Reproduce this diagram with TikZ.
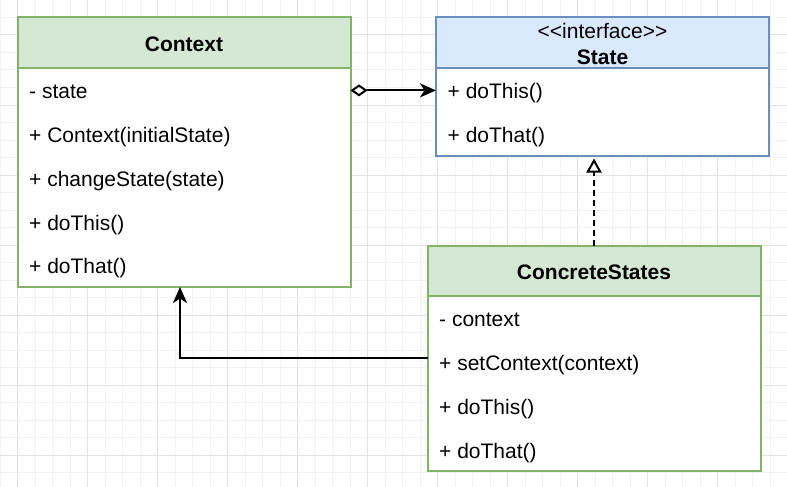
\documentclass[tikz,border=0pt]{standalone}
\usepackage{fontspec}
\setmainfont{Liberation Sans}
\usetikzlibrary{arrows.meta}
\definecolor{gminor}{RGB}{242,242,242}
\definecolor{gmajor}{RGB}{226,226,226}
\definecolor{greenfill}{RGB}{213,232,212}
\definecolor{greenline}{RGB}{130,179,102}
\definecolor{bluefill}{RGB}{218,232,252}
\definecolor{blueline}{RGB}{108,142,191}
\begin{document}
\begin{tikzpicture}[x=1pt,y=-1pt,
  every node/.style={font=\fontsize{21pt}{25pt}\selectfont},
  classbox/.style={draw, line width=2pt, fill=white, inner sep=0pt, outer sep=0pt,
    anchor=north west, minimum width=333pt},
  headbox/.style={classbox, minimum height=50.75pt},
  greenbox/.style={draw=greenline},
  bluebox/.style={draw=blueline},
  rowtxt/.style={anchor=base west, inner sep=0pt},
  headtxt/.style={anchor=base, inner sep=0pt},
  conn/.style={line width=2pt, black},
]
\useasboundingbox (0,0) rectangle (787,487);
% grid
\begin{scope}
\clip (0,0) rectangle (787,487);
\foreach \i in {0,...,45} {\draw[gminor, line width=1pt] (\i*17.5,0) -- (\i*17.5,487);}
\foreach \j in {0,...,28} {\draw[gminor, line width=1pt] (0,\j*17.5) -- (787,\j*17.5);}
\foreach \i in {0,...,11} {\draw[gmajor, line width=1pt] (17.5+\i*70,0) -- (17.5+\i*70,487);}
\foreach \j in {0,...,6} {\draw[gmajor, line width=1pt] (0,35+\j*70) -- (787,35+\j*70);}
\end{scope}

% Context
\node[classbox, greenbox, minimum height=269.5pt] (ctx) at (17.5,17.5) {};
\node[headbox, greenbox, fill=greenfill] (ctxhead) at (17.5,17.5) {};
\node[headtxt, font=\fontsize{21pt}{25pt}\selectfont\bfseries] (ctxname) at (ctxhead.center |- 0,51.7) {Context};
\node[rowtxt] (ctxr1) at (29,98.9) {- state};
\node[rowtxt] (ctxr2) at (29,142.7) {+ Context(initialState)};
\node[rowtxt] (ctxr3) at (29,186.4) {+ changeState(state)};
\node[rowtxt] (ctxr4) at (29,230.2) {+ doThis()};
\node[rowtxt] (ctxr5) at (29,273.9) {+ doThat()};

% State
\node[classbox, bluebox, minimum height=138pt] (state) at (436,17.5) {};
\node[headbox, bluebox, fill=bluefill] (statehead) at (436,17.5) {};
\node[headtxt] (stereo) at (statehead.center |- 0,38.8) {{<}\kern0pt{<}interface{>}\kern0pt{>}};
\node[headtxt, font=\fontsize{21pt}{25pt}\selectfont\bfseries] (statename) at (statehead.center |- 0,64.5) {State};
\node[rowtxt] (str1) at (447.5,98.9) {+ doThis()};
\node[rowtxt] (str2) at (447.5,142.7) {+ doThat()};

% ConcreteStates
\node[classbox, greenbox, minimum height=225.75pt] (cs) at (427.5,245.5) {};
\node[headbox, greenbox, fill=greenfill] (cshead) at (427.5,245.5) {};
\node[headtxt, font=\fontsize{21pt}{25pt}\selectfont\bfseries] (csname) at (cshead.center |- 0,279.7) {ConcreteStates};
\node[rowtxt] (csr1) at (439,326.9) {- context};
\node[rowtxt] (csr2) at (439,370.7) {+ setContext(context)};
\node[rowtxt] (csr3) at (439,414.4) {+ doThis()};
\node[rowtxt] (csr4) at (439,458.2) {+ doThat()};

% connectors
\coordinate (aggy) at (0,90.4);
\coordinate (bend) at (180,358);
\draw[conn, {Diamond[fill=white,length=17pt,width=12pt,line width=2pt]}-{Stealth[length=16pt,width=14pt,inset=4.5pt]}]
  (ctx.east |- aggy) -- (state.west |- aggy);
\draw[conn, dash pattern=on 6pt off 4pt, shorten >=3pt, -{Triangle[fill=white,length=14pt,width=15pt,line width=2pt]}]
  (cs.north) -- (state.south -| cs.north);
\draw[conn, -{Stealth[length=16pt,width=14pt,inset=4.5pt]}]
  (cs.west |- bend) -| (ctx.south -| bend);
\end{tikzpicture}
\end{document}
